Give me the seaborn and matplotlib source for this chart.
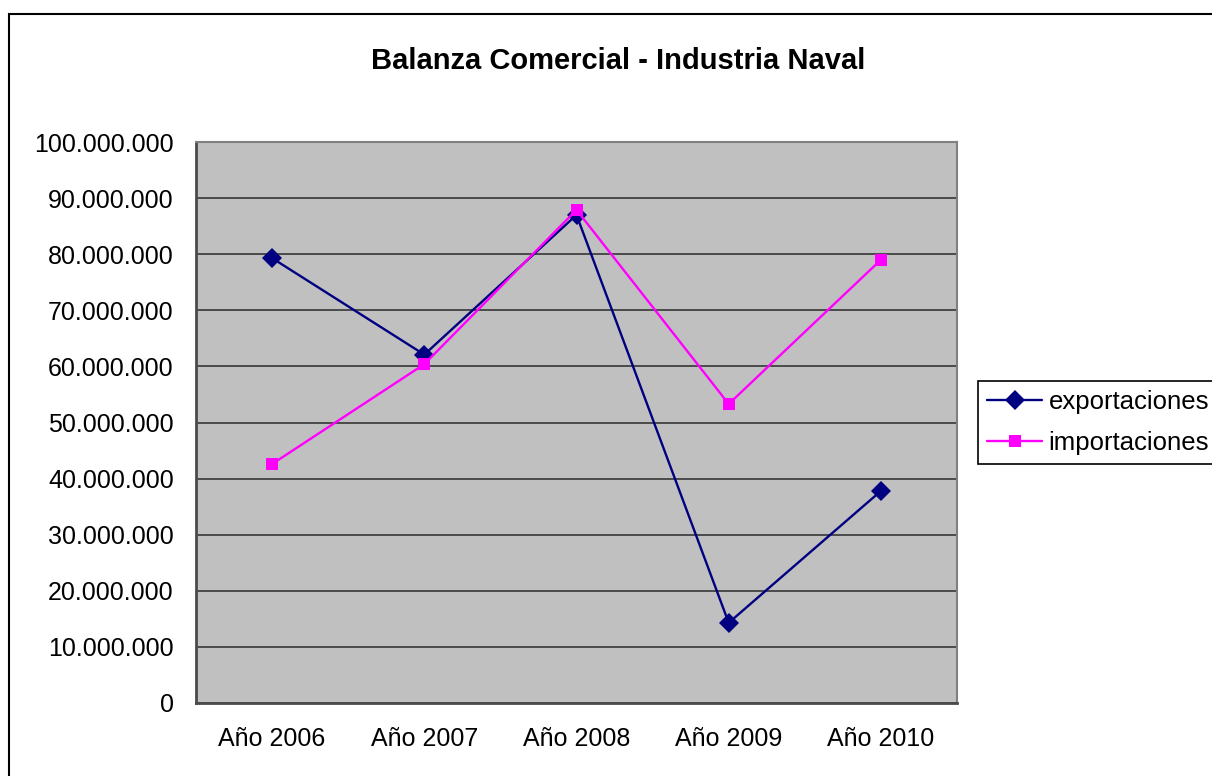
import matplotlib
matplotlib.use("Agg")
import matplotlib.pyplot as plt
import matplotlib.ticker as mticker
from matplotlib.patches import Rectangle
import seaborn as sns
import pandas as pd

categories = ["Año 2006", "Año 2007", "Año 2008", "Año 2009", "Año 2010"]
exportaciones = [79300000, 62100000, 87000000, 14300000, 37800000]
importaciones = [42600000, 60400000, 87900000, 53300000, 79000000]
series_names = ["exportaciones", "importaciones"]
title = "Balanza Comercial - Industria Naval"

sns.set_style("white")
plt.rcParams['font.family'] = ['Liberation Sans', 'DejaVu Sans']
plt.rcParams['text.color'] = 'black'
plt.rcParams['xtick.labelcolor'] = 'black'
plt.rcParams['ytick.labelcolor'] = 'black'

df = pd.DataFrame({
    "x": list(range(len(categories))) * 2,
    "valor": exportaciones + importaciones,
    "serie": [series_names[0]] * len(categories) + [series_names[1]] * len(categories),
})

fig = plt.figure(figsize=(12.12, 7.76), dpi=100)
ax = fig.add_axes([196 / 1212, 1 - 703 / 776, (957 - 196) / 1212, (703 - 142) / 776])

palette = {"exportaciones": "#000080", "importaciones": "#FF00FF"}
markers = {"exportaciones": "D", "importaciones": "s"}
sns.lineplot(data=df, x="x", y="valor", hue="serie", style="serie",
             palette=palette, markers=markers, dashes=False,
             markersize=9, linewidth=1.7, markeredgewidth=0, ax=ax, legend=True)

for ln in ax.lines:
    if ln.get_marker() == "D":
        ln.set_markersize(10)

ax.set_facecolor("#C0C0C0")
ax.set_xlim(-0.5, len(categories) - 0.5)
ax.set_ylim(0, 100000000)
ax.yaxis.set_major_locator(mticker.MultipleLocator(10000000))
ax.yaxis.set_major_formatter(mticker.FuncFormatter(lambda v, p: f"{int(v):,}".replace(",", ".")))
ax.grid(axis="y", color="#4a4a4a", linewidth=1.4)
ax.set_axisbelow(True)

ax.set_xticks([i - 0.5 for i in range(len(categories) + 1)])
ax.set_xticklabels([])
ax.set_xticks(list(range(len(categories))), minor=True)
ax.set_xticklabels(categories, minor=True)
ax.tick_params(axis="x", which="major", length=7, width=1, color="#4a4a4a", direction="out")
ax.tick_params(axis="x", which="minor", length=0, pad=17, labelsize=18, labelcolor="black")
ax.tick_params(axis="y", length=6, width=1, color="#4a4a4a", direction="out", pad=10,
               labelsize=18, labelcolor="black")
ax.set_xlabel("")
ax.set_ylabel("")

for s in ["left", "bottom"]:
    ax.spines[s].set_color("#4a4a4a")
    ax.spines[s].set_linewidth(2)
for s in ["right", "top"]:
    ax.spines[s].set_color("#808080")
    ax.spines[s].set_linewidth(1.5)

fig.text(618 / 1212, 1 - 61 / 776, title, ha="center", va="center",
         fontsize=21, fontweight="bold", color="black")

handles, labels = ax.get_legend_handles_labels()
leg = ax.legend(handles, labels, loc="upper left",
                bbox_to_anchor=(978 / 1212, 1 - 381 / 776), bbox_transform=fig.transFigure,
                borderaxespad=0, frameon=True, fancybox=False, fontsize=18.5,
                handlelength=2.15, handletextpad=0.25, labelspacing=0.65,
                borderpad=0.35, edgecolor="black", framealpha=1)
leg.get_frame().set_linewidth(1.2)
for t in leg.get_texts():
    t.set_color("black")

fig.patches.append(Rectangle((9 / 1212, -0.1), 1.2, 1 - 14 / 776 + 0.1,
                             transform=fig.transFigure, fill=False,
                             edgecolor="black", linewidth=1.5, zorder=0))

fig.savefig("out.png", dpi=100)
